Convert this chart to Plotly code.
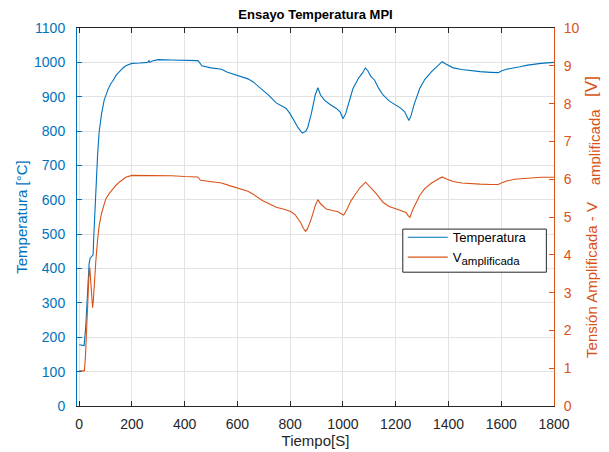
import plotly.graph_objects as go

# Temperature series (time in s, temperature in °C)
t_temp = [0, 10, 19, 25, 31.6, 38, 42, 47, 51, 53, 56, 60, 63, 70, 76, 85, 95, 101, 110, 120,
          127, 140, 152, 165, 177, 190, 200, 230, 260, 265, 268, 280, 300, 350, 400, 450,
          458, 465, 500, 540, 560, 600, 640, 660, 696, 720, 747, 785, 800, 815, 830, 846,
          860, 867, 880, 895, 905, 915, 930, 950, 975, 990, 1000, 1010, 1025, 1038, 1060,
          1075, 1085, 1095, 1105, 1120, 1135, 1152, 1175, 1203, 1220, 1234, 1245, 1250,
          1258, 1270, 1291, 1310, 1336, 1360, 1376, 1390, 1418, 1450, 1481, 1520, 1560,
          1589, 1600, 1620, 1671, 1700, 1750, 1800]
temperatura = [178, 176, 176, 230, 349, 415, 430, 435, 436, 440, 500, 580, 641, 730, 798, 850,
               890, 904, 922, 938, 945, 962, 973, 983, 990, 994, 997, 998, 1000, 1005, 1000,
               1005, 1008, 1007, 1006, 1005, 998, 990, 984, 980, 972, 963, 952, 943, 919, 903,
               882, 866, 850, 830, 810, 794, 800, 812, 850, 905, 926, 905, 890, 878, 866, 855,
               836, 850, 890, 924, 955, 970, 984, 975, 960, 948, 925, 905, 888, 875, 866, 856,
               840, 831, 845, 878, 924, 950, 973, 992, 1002, 995, 984, 979, 976, 973, 971,
               970, 975, 980, 987, 992, 997, 1000]

# Amplified voltage series (time in s, voltage in V)
t_volt = [0, 10, 20, 24, 28, 33, 37, 40.5, 44, 48, 51, 54, 58, 63, 70, 76, 85, 95, 101, 115,
          127, 140, 152, 165, 177, 200, 250, 300, 350, 400, 450, 460, 500, 540, 570, 600,
          640, 660, 696, 720, 747, 780, 804, 820, 829, 840, 850, 858, 865, 880, 895, 905,
          915, 937, 960, 981, 995, 1003, 1015, 1030, 1044, 1065, 1086, 1100, 1127, 1152,
          1175, 1203, 1225, 1239, 1248, 1254, 1265, 1291, 1310, 1336, 1360, 1376, 1395,
          1418, 1450, 1481, 1520, 1560, 1589, 1600, 1620, 1650, 1700, 1750, 1800]
v_amplificada = [0.93, 0.93, 0.93, 1.3, 2.0, 2.9, 3.4, 3.66, 3.3, 2.8, 2.6, 2.8, 3.3, 3.8,
                 4.4, 4.77, 5.1, 5.38, 5.48, 5.63, 5.74, 5.84, 5.92, 5.99, 6.05, 6.1, 6.1,
                 6.1, 6.09, 6.07, 6.06, 5.97, 5.93, 5.9, 5.83, 5.77, 5.68, 5.6, 5.43, 5.35,
                 5.26, 5.2, 5.14, 5.05, 4.95, 4.85, 4.7, 4.62, 4.68, 4.95, 5.3, 5.46, 5.35,
                 5.21, 5.17, 5.14, 5.08, 5.05, 5.2, 5.42, 5.57, 5.78, 5.92, 5.82, 5.61, 5.39,
                 5.28, 5.21, 5.16, 5.12, 5.03, 4.99, 5.2, 5.57, 5.75, 5.9, 6.0, 6.06, 6.0,
                 5.94, 5.9, 5.88, 5.87, 5.86, 5.86, 5.9, 5.95, 6.0, 6.03, 6.05, 6.05]

x_ticks = list(range(0, 1801, 200))
y_ticks = list(range(0, 1101, 100))
y2_ticks = list(range(0, 11))

BLUE = "#0072BD"
ORANGE = "#D95319"
DARK = "#262626"
GRID = "#e3e3e3"
FONT = "Liberation Sans, Arial, Helvetica, sans-serif"

NB = "\u00a0"
y2_title = ("Tensión Amplificada - V<sub><span style='font-size:15px'>" + NB * 4 +
            "amplificada</span></sub>" + NB * 3 +
            "<span style='font-size:17px'>[V]</span>" + NB * 11)

fig = go.Figure()
fig.add_trace(go.Scatter(x=t_temp, y=temperatura, mode="lines", name="Temperatura",
                         line=dict(color=BLUE, width=1.1)))
fig.add_trace(go.Scatter(x=t_volt, y=v_amplificada, mode="lines",
                         name="V<sub><span style='font-size:11.5px'>amplificada</span></sub>",
                         yaxis="y2", line=dict(color=ORANGE, width=1.1)))

# legend frame (opaque white box with dark border, like the reference)
fig.add_shape(type="rect", xref="paper", yref="paper", x0=0.683, x1=0.984,
              y0=0.354, y1=0.468, fillcolor="white",
              line=dict(color=DARK, width=1), layer="above")

fig.update_layout(
    width=601, height=444,
    margin=dict(l=69, r=54.5, t=20, b=46, autoexpand=False),
    paper_bgcolor="white", plot_bgcolor="white",
    font=dict(family=FONT, size=14, color=DARK),
    title=dict(text="Ensayo Temperatura MPI", x=0.5, xref="paper",
               y=1, yref="paper", xanchor="center", yanchor="bottom",
               pad=dict(b=9),
               font=dict(size=13, color="black", weight="bold")),
    xaxis=dict(range=[-8, 1800], tickvals=x_ticks, ticks="inside", ticklen=5,
               tickcolor=DARK, showline=True, linecolor=DARK, linewidth=1,
               mirror="ticks", showgrid=True, gridcolor=GRID, zeroline=False,
               automargin=False,
               tickfont=dict(size=14, color=DARK), ticklabelstandoff=5,
               title=dict(text="Tiempo[S]", font=dict(size=15, color=DARK), standoff=4)),
    yaxis=dict(range=[0, 1100], tickvals=y_ticks, ticks="inside", ticklen=5,
               tickcolor=BLUE, showline=True, linecolor=BLUE, linewidth=1,
               showgrid=True, gridcolor=GRID, zeroline=False, automargin=False,
               tickfont=dict(size=14, color=BLUE), ticklabelstandoff=8,
               title=dict(text="Temperatura [°C]", font=dict(size=15, color=BLUE), standoff=2)),
    yaxis2=dict(range=[0, 10], tickvals=y2_ticks, ticks="inside", ticklen=5,
                tickcolor=ORANGE, showline=True, linecolor=ORANGE, linewidth=1,
                overlaying="y", side="right", showgrid=False, zeroline=False,
                automargin=False,
                tickfont=dict(size=14, color=ORANGE), ticklabelstandoff=6,
                title=dict(text=y2_title, font=dict(size=15, color=ORANGE), standoff=7)),
    legend=dict(x=0.683, y=0.486, xanchor="left", yanchor="top",
                bgcolor="rgba(0,0,0,0)", borderwidth=0,
                font=dict(size=13, color="black"), itemwidth=40,
                tracegroupgap=0),
    showlegend=True,
)

fig.write_html("out.html")
